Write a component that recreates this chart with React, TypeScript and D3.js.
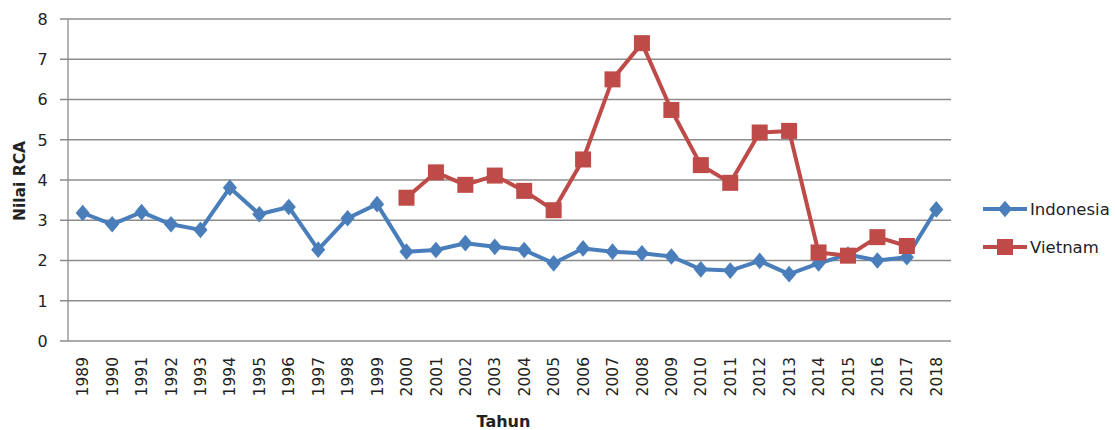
import * as d3 from "d3";

const years = [
  "1989", "1990", "1991", "1992", "1993", "1994", "1995", "1996", "1997", "1998",
  "1999", "2000", "2001", "2002", "2003", "2004", "2005", "2006", "2007", "2008",
  "2009", "2010", "2011", "2012", "2013", "2014", "2015", "2016", "2017", "2018",
];

const indonesia = [
  3.18, 2.9, 3.2, 2.9, 2.76, 3.81, 3.15, 3.33, 2.27, 3.05,
  3.4, 2.22, 2.26, 2.43, 2.34, 2.26, 1.93, 2.3, 2.22, 2.18,
  2.1, 1.78, 1.75, 1.99, 1.66, 1.93, 2.15, 2.0, 2.08, 3.27,
];

// Vietnam only from 2000 to 2017
const vietnam: (number | null)[] = [
  null, null, null, null, null, null, null, null, null, null,
  null, 3.56, 4.19, 3.88, 4.11, 3.73, 3.25, 4.51, 6.5, 7.4,
  5.74, 4.37, 3.93, 5.18, 5.22, 2.2, 2.12, 2.58, 2.36, null,
];

const yTicks = [0, 1, 2, 3, 4, 5, 6, 7, 8];

const BLUE = "#4a7ebb";
const RED = "#be4b48";
const GRID = "#8c8c8c";
const FONT = "'DejaVu Sans', sans-serif";

// excel-like diamond, a bit wider than d3's default
const wideDiamond: d3.SymbolType = {
  draw(ctx, size) {
    const h = Math.sqrt(size) * 0.68;
    const w = h * 0.85;
    ctx.moveTo(0, -h);
    ctx.lineTo(w, 0);
    ctx.lineTo(0, h);
    ctx.lineTo(-w, 0);
    ctx.closePath();
  },
};

export default function App() {
  const width = 1115;
  const height = 430;
  const margin = { top: 19, right: 164, bottom: 89, left: 68 };
  const innerW = width - margin.left - margin.right;
  const innerH = height - margin.top - margin.bottom;

  const x = d3.scaleBand().domain(years).range([0, innerW]);
  const y = d3.scaleLinear().domain([0, 8]).range([innerH, 0]);
  const cx = (i: number) => (x(years[i]) ?? 0) + x.bandwidth() / 2;

  const line = d3
    .line<number | null>()
    .defined((d) => d != null)
    .x((_, i) => cx(i))
    .y((d) => y(d as number));

  const diamond = d3.symbol(wideDiamond, 150)() as string;
  const sq = 16;

  return (
    <svg
      width={width}
      height={height}
      style={{ display: "block", position: "absolute", left: 0, top: 0 }}
    >
      <rect width={width} height={height} fill="#fff" />
      <g transform={`translate(${margin.left},${margin.top})`}>
        {yTicks.map((t) => (
          <g key={t}>
            <line x1={-8} x2={innerW} y1={y(t)} y2={y(t)} stroke={GRID} strokeWidth={1.3} />
            <text
              x={-25.5}
              y={y(t)}
              dy="0.36em"
              textAnchor="middle"
              fontFamily={FONT}
              fontSize={16}
              fill="#222"
            >
              {t}
            </text>
          </g>
        ))}
        <line x1={0} x2={0} y1={0} y2={innerH} stroke={GRID} strokeWidth={1.3} />

        {years.map((yr, i) => (
          <text
            key={yr}
            transform={`translate(${cx(i)},${innerH + 16}) rotate(-90)`}
            dy="0.36em"
            textAnchor="end"
            fontFamily={FONT}
            fontSize={15.5}
            fill="#222"
          >
            {yr}
          </text>
        ))}

        <path d={line(indonesia) ?? ""} fill="none" stroke={BLUE} strokeWidth={4} strokeLinejoin="round" />
        {indonesia.map((v, i) => (
          <path key={i} d={diamond} transform={`translate(${cx(i)},${y(v)})`} fill={BLUE} />
        ))}

        <path d={line(vietnam) ?? ""} fill="none" stroke={RED} strokeWidth={4} strokeLinejoin="round" />
        {vietnam.map((v, i) =>
          v == null ? null : (
            <rect key={i} x={cx(i) - sq / 2} y={y(v) - sq / 2} width={sq} height={sq} fill={RED} />
          )
        )}
      </g>

      <text
        transform={`translate(19,${margin.top + innerH / 2 + 1}) rotate(-90)`}
        dy="0.36em"
        textAnchor="middle"
        fontFamily={FONT}
        fontWeight="bold"
        fontSize={15.5}
        fill="#222"
      >
        Nilai RCA
      </text>
      <text
        x={margin.left + innerW / 2 - 6}
        y={421}
        dy="0.36em"
        textAnchor="middle"
        fontFamily={FONT}
        fontWeight="bold"
        fontSize={16}
        fill="#222"
      >
        Tahun
      </text>

      <g transform="translate(983,209)">
        <line x1={0} x2={44} y1={0} y2={0} stroke={BLUE} strokeWidth={4} />
        <path d={diamond} transform="translate(22,0)" fill={BLUE} />
        <text x={47} dy="0.36em" fontFamily={FONT} fontSize={16.5} fill="#222">
          Indonesia
        </text>
      </g>
      <g transform="translate(983,247)">
        <line x1={0} x2={44} y1={0} y2={0} stroke={RED} strokeWidth={4} />
        <rect x={14} y={-sq / 2} width={sq} height={sq} fill={RED} />
        <text x={47} dy="0.36em" fontFamily={FONT} fontSize={16.5} fill="#222">
          Vietnam
        </text>
      </g>
    </svg>
  );
}
